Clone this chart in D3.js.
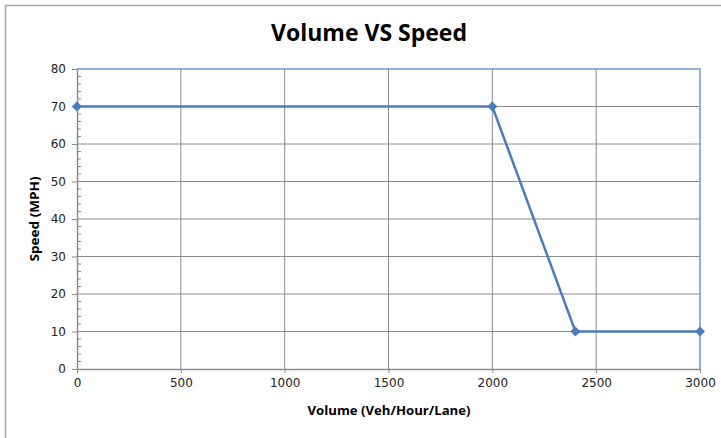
<!DOCTYPE html>
<html lang="en">
<head>
    <meta charset="UTF-8">
    <title>Volume VS Speed</title>
    <script src="https://d3js.org/d3.v7.min.js"></script>
    <style>
        body { margin: 0; background: #fff; }
        .tick text { font-family: "DejaVu Sans", sans-serif; font-size: 12px; fill: #222; }
        .title { font-family: "Open Sans", sans-serif; font-weight: bold; font-size: 23px; fill: #000; }
        .axis-label { font-family: "Open Sans", sans-serif; font-weight: bold; font-size: 12.5px; fill: #000; }
    </style>
</head>
<body>
    <script>
        const volume = [0, 2000, 2400, 3000];
        const speed = [70, 70, 10, 10];
        const xTicks = [0, 500, 1000, 1500, 2000, 2500, 3000];
        const yTicks = [0, 10, 20, 30, 40, 50, 60, 70, 80];

        const width = 721, height = 438;
        const plotLeft = 77, plotRight = 700, plotTop = 69, plotBottom = 369;

        const svg = d3.select("body").append("svg")
            .attr("width", width)
            .attr("height", height);

        // chart border (only top and left visible)
        svg.append("path")
            .attr("d", `M5.5,${height}V5.5H${width}`)
            .attr("fill", "none")
            .attr("stroke", "#a6a6a6")
            .attr("stroke-width", 1.5);

        const x = d3.scaleLinear().domain([0, 3000]).range([plotLeft, plotRight]);
        const y = d3.scaleLinear().domain([0, 80]).range([plotBottom, plotTop]);

        // gridlines
        svg.append("g").selectAll("line")
            .data(xTicks.slice(1, -1))
            .join("line")
            .attr("x1", d => x(d)).attr("x2", d => x(d))
            .attr("y1", plotTop).attr("y2", plotBottom)
            .attr("stroke", "#8c8c8c");
        svg.append("g").selectAll("line")
            .data(yTicks.slice(1, -1))
            .join("line")
            .attr("x1", plotLeft).attr("x2", plotRight)
            .attr("y1", d => y(d)).attr("y2", d => y(d))
            .attr("stroke", "#8c8c8c");

        // plot area border top/right
        svg.append("path")
            .attr("d", `M${plotLeft},${y(80)}H${x(3000)}V${plotBottom}`)
            .attr("fill", "none")
            .attr("stroke", "#7097c9")
            .attr("stroke-width", 1.5);

        // minor ticks on y axis (inside)
        const minor = d3.range(0, 80, 2).filter(d => d % 10 !== 0);
        svg.append("g").selectAll("line")
            .data(minor)
            .join("line")
            .attr("x1", plotLeft).attr("x2", plotLeft + 4)
            .attr("y1", d => y(d)).attr("y2", d => y(d))
            .attr("stroke", "#8c8c8c");

        // axes
        const xAxis = svg.append("g")
            .attr("transform", `translate(0,${plotBottom})`)
            .call(d3.axisBottom(x).tickValues(xTicks).tickFormat(d3.format("d"))
                .tickSize(4).tickPadding(5).tickSizeOuter(0));
        const yAxis = svg.append("g")
            .attr("transform", `translate(${plotLeft},0)`)
            .call(d3.axisLeft(y).tickValues(yTicks).tickSize(5).tickPadding(6).tickSizeOuter(0));
        [xAxis, yAxis].forEach(g => {
            g.select(".domain").attr("stroke", "#8c8c8c").attr("stroke-width", 1.5);
            g.selectAll(".tick line").attr("stroke", "#8c8c8c");
        });

        // series
        const pts = volume.map((v, i) => [v, speed[i]]);
        svg.append("path")
            .datum(pts)
            .attr("fill", "none")
            .attr("stroke", "#4a7ebb")
            .attr("stroke-width", 2.5)
            .attr("d", d3.line().x(d => x(d[0])).y(d => y(d[1])));
        svg.append("g").selectAll("path")
            .data(pts)
            .join("path")
            .attr("transform", d => `translate(${x(d[0])},${y(d[1])}) rotate(45)`)
            .attr("d", d3.symbol(d3.symbolSquare, 52))
            .attr("fill", "#4a7ebb");

        // text
        svg.append("text").attr("class", "title")
            .attr("x", 369).attr("y", 41)
            .attr("text-anchor", "middle")
            .attr("textLength", 196).attr("lengthAdjust", "spacingAndGlyphs")
            .text("Volume VS Speed");
        svg.append("text").attr("class", "axis-label")
            .attr("x", 389).attr("y", 415)
            .attr("text-anchor", "middle")
            .attr("textLength", 163).attr("lengthAdjust", "spacingAndGlyphs")
            .text("Volume (Veh/Hour/Lane)");
        svg.append("text").attr("class", "axis-label")
            .attr("transform", `translate(39,${(plotTop + plotBottom) / 2}) rotate(-90)`)
            .attr("text-anchor", "middle")
            .attr("textLength", 85).attr("lengthAdjust", "spacingAndGlyphs")
            .text("Speed (MPH)");
    </script>
</body>
</html>
